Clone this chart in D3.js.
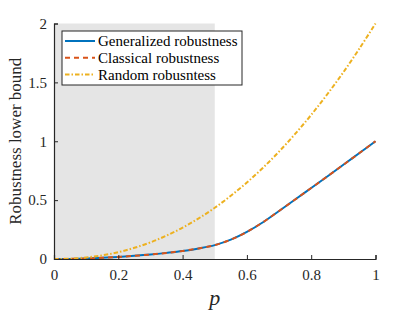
<!DOCTYPE html>
<html lang="en">
<head>
<meta charset="UTF-8">
<title>Robustness lower bound</title>
<script src="https://cdnjs.cloudflare.com/ajax/libs/d3/7.8.5/d3.min.js"></script>
<style>
    body { margin: 0; background: #fff; }
    svg { display: block; }
    svg text { font-family: "Liberation Serif", "DejaVu Serif", serif; }
</style>
</head>
<body>
<svg id="chart" width="415" height="312"></svg>
<script>
    // values
    const pValues = [0, 0.05, 0.1, 0.15, 0.2, 0.25, 0.3, 0.35, 0.4, 0.45, 0.5,
                     0.55, 0.6, 0.65, 0.7, 0.75, 0.8, 0.85, 0.9, 0.95, 1];
    const generalized = [0, 0.001, 0.004, 0.01, 0.018, 0.027, 0.038, 0.052, 0.068, 0.09, 0.118,
                         0.164, 0.23, 0.312, 0.408, 0.505, 0.603, 0.701, 0.8, 0.9, 1];
    const classical = [0, 0.001, 0.004, 0.01, 0.018, 0.027, 0.038, 0.052, 0.068, 0.09, 0.118,
                       0.164, 0.23, 0.312, 0.408, 0.505, 0.603, 0.701, 0.8, 0.9, 1];
    const random = [0, 0.003, 0.013, 0.031, 0.058, 0.095, 0.141, 0.199, 0.266, 0.345, 0.435,
                    0.537, 0.65, 0.775, 0.912, 1.062, 1.224, 1.399, 1.586, 1.787, 2];
    const xTicks = [0, 0.2, 0.4, 0.6, 0.8, 1];
    const yTicks = [0, 0.5, 1, 1.5, 2];
    const shadedRange = [0, 0.5];
    const seriesNames = ["Generalized robustness", "Classical robustness", "Random robusntess"];

    const margin = { top: 23.5, right: 39.5, bottom: 53, left: 54 };
    const width = 415 - margin.left - margin.right;
    const height = 312 - margin.top - margin.bottom;
    const axisColor = "#262626";
    const serif = "'Liberation Serif', 'DejaVu Serif', serif";

    const svg = d3.select("#chart");
    const g = svg.append("g").attr("transform", `translate(${margin.left},${margin.top})`);

    const x = d3.scaleLinear().domain([0, 1]).range([0, width]);
    const y = d3.scaleLinear().domain([0, 2]).range([height, 0]);

    // shaded area p < 0.5
    g.append("rect")
        .attr("x", x(shadedRange[0]))
        .attr("y", y(2))
        .attr("width", x(shadedRange[1]) - x(shadedRange[0]))
        .attr("height", y(0) - y(2))
        .attr("fill", "#e5e5e5");

    const series = [
        { name: seriesNames[0], values: generalized, color: "#0072bd", dash: null },
        { name: seriesNames[1], values: classical, color: "#d95319", dash: "5,4" },
        { name: seriesNames[2], values: random, color: "#edb120", dash: "4.5,2,1.5,2" }
    ];

    const line = d3.line()
        .x((d, i) => x(pValues[i]))
        .y(d => y(d))
        .curve(d3.curveCatmullRom.alpha(0.5));

    series.forEach(s => {
        g.append("path")
            .datum(s.values)
            .attr("d", line)
            .attr("fill", "none")
            .attr("stroke", s.color)
            .attr("stroke-width", 2)
            .attr("stroke-dasharray", s.dash);
    });

    // axes, ticks pointing inward
    const xAxis = g.append("g")
        .attr("transform", `translate(0,${height})`)
        .call(d3.axisBottom(x).tickValues(xTicks).tickSizeInner(-4).tickSizeOuter(-4).tickPadding(10)
            .tickFormat(d3.format("")));
    const yAxis = g.append("g")
        .call(d3.axisLeft(y).tickValues(yTicks).tickSizeInner(-4).tickSizeOuter(-4).tickPadding(7)
            .tickFormat(d3.format("")));

    [xAxis, yAxis].forEach(a => {
        a.attr("font-family", serif);
        a.select(".domain").attr("stroke", axisColor).attr("stroke-width", 1.2);
        a.selectAll(".tick line").attr("stroke", axisColor).attr("stroke-width", 1);
        a.selectAll(".tick text")
            .attr("fill", axisColor)
            .attr("font-size", 15);
    });

    // axis labels
    g.append("text")
        .attr("x", x(0.5))
        .attr("y", height + 46)
        .attr("text-anchor", "middle")
        .attr("font-style", "italic")
        .attr("font-size", 22)
        .attr("fill", axisColor)
        .text("p");

    g.append("text")
        .attr("transform", `translate(${-33},${height / 2}) rotate(-90)`)
        .attr("text-anchor", "middle")
        .attr("font-size", 17)
        .attr("fill", axisColor)
        .text("Robustness lower bound");

    // legend
    const legend = g.append("g").attr("transform", `translate(${62 - margin.left},${31 - margin.top})`);
    legend.append("rect")
        .attr("width", 180)
        .attr("height", 54)
        .attr("fill", "#fff")
        .attr("stroke", axisColor)
        .attr("stroke-width", 1);

    series.forEach((s, i) => {
        const row = legend.append("g").attr("transform", `translate(0,${10 + i * 16.8})`);
        row.append("line")
            .attr("x1", 3).attr("x2", 33)
            .attr("stroke", s.color)
            .attr("stroke-width", 2)
            .attr("stroke-dasharray", s.dash);
        row.append("text")
            .attr("x", 36)
            .attr("dy", "0.35em")
            .attr("font-size", 15)
            .attr("fill", "#000")
            .text(s.name);
    });
</script>
</body>
</html>
